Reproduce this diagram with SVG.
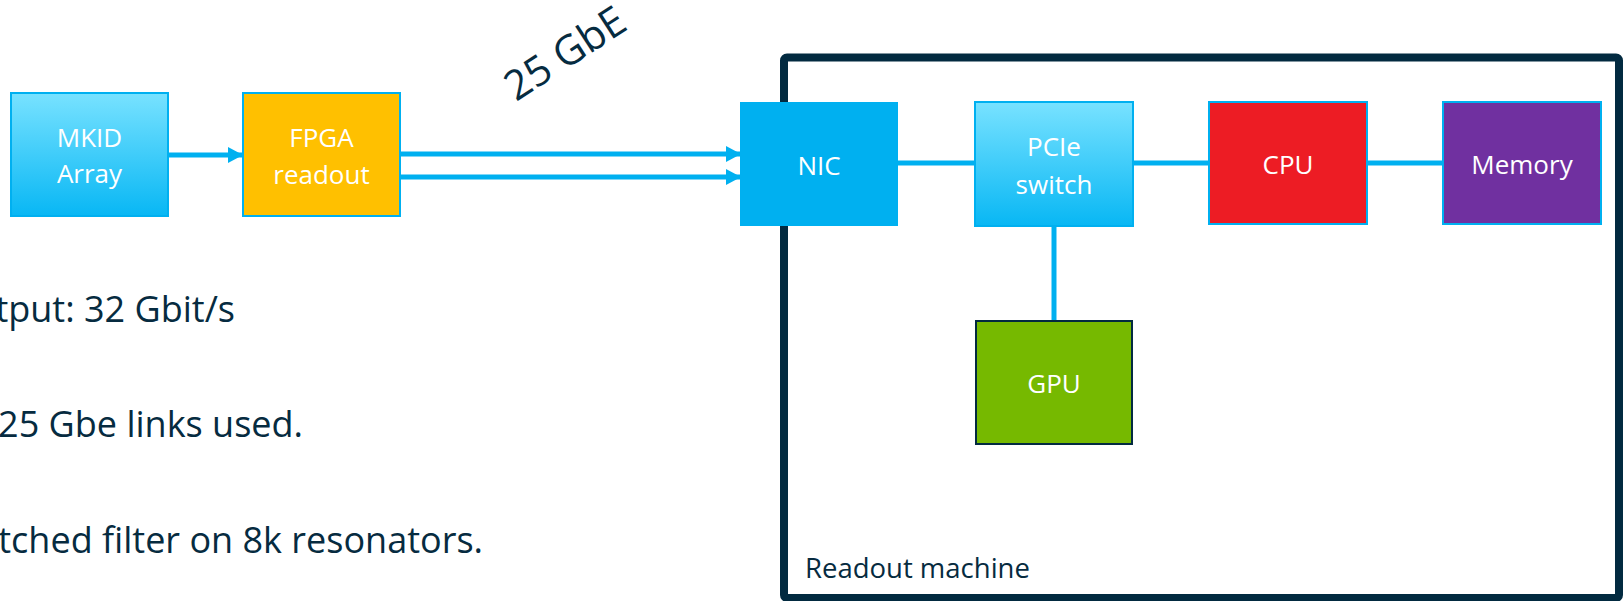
<svg xmlns="http://www.w3.org/2000/svg" width="1623" height="601" viewBox="0 0 1623 601">
<style>
.lbl{font-family:"Open Sans","Liberation Sans",sans-serif;font-size:26px;fill:#ffffff;text-anchor:middle}
.txt{font-family:"Open Sans","Liberation Sans",sans-serif;font-size:36px;fill:#062B40}
.conn{stroke:#00B0F0;stroke-width:5;fill:none}
.box{stroke:#00B0F0;stroke-width:2}
</style>
<defs>
<linearGradient id="lb" x1="0" y1="0" x2="0" y2="1">
<stop offset="0" stop-color="#78E2FF"/>
<stop offset="1" stop-color="#08B7F4"/>
</linearGradient>
<marker id="ah" markerWidth="15" markerHeight="16" refX="15" refY="8" orient="auto" markerUnits="userSpaceOnUse">
<path d="M0,0 L15,8 L0,16 Z" fill="#00B0F0"/>
</marker>
</defs>
<rect width="1623" height="601" fill="#ffffff"/>

<g id="readout-machine">
<rect x="784" y="57.5" width="835" height="540.5" rx="3" fill="none" stroke="#022A40" stroke-width="8"/>
<text x="805" y="578" font-family="Open Sans, Liberation Sans, sans-serif" font-size="27.5" fill="#062B40">Readout machine</text>
</g>

<g id="connectors">
<line class="conn" x1="168" y1="155" x2="243" y2="155" marker-end="url(#ah)"/>
<line class="conn" x1="400" y1="154" x2="741" y2="154" marker-end="url(#ah)"/>
<line class="conn" x1="400" y1="177" x2="741" y2="177" marker-end="url(#ah)"/>
<line class="conn" x1="898" y1="163" x2="975" y2="163"/>
<line class="conn" x1="1133" y1="163" x2="1209" y2="163"/>
<line class="conn" x1="1367" y1="163" x2="1443" y2="163"/>
<line class="conn" x1="1054" y1="226" x2="1054" y2="321"/>
</g>

<g id="mkid">
<rect class="box" x="11" y="93" width="157" height="123" fill="url(#lb)"/>
<text class="lbl" x="89.5" y="147">MKID</text>
<text class="lbl" x="89.5" y="183">Array</text>
</g>
<g id="fpga">
<rect class="box" x="243" y="93" width="157" height="123" fill="#FFC000"/>
<text class="lbl" x="321.5" y="147">FPGA</text>
<text class="lbl" x="321.5" y="184">readout</text>
</g>
<g id="nic">
<rect x="740" y="102" width="158" height="124" fill="#00B0F0"/>
<text class="lbl" x="819" y="175">NIC</text>
</g>
<g id="pcie">
<rect class="box" x="975" y="102" width="158" height="124" fill="url(#lb)"/>
<text class="lbl" x="1054" y="156">PCIe</text>
<text class="lbl" x="1054" y="194">switch</text>
</g>
<g id="cpu">
<rect class="box" x="1209" y="102" width="158" height="122" fill="#ED1C24"/>
<text class="lbl" x="1288" y="174">CPU</text>
</g>
<g id="memory">
<rect class="box" x="1443" y="102" width="158" height="122" fill="#7030A0"/>
<text class="lbl" x="1522" y="174">Memory</text>
</g>
<g id="gpu">
<rect x="976" y="321" width="156" height="123" fill="#76B900" stroke="#022A40" stroke-width="2"/>
<text class="lbl" x="1054" y="393">GPU</text>
</g>

<text font-family="Open Sans, Liberation Sans, sans-serif" font-size="41" fill="#062B40" transform="translate(516,102) rotate(-33)">25 GbE</text>

<text class="txt" x="235" y="322" text-anchor="end">tput: 32 Gbit/s</text>
<text class="txt" x="303" y="437" text-anchor="end">25 Gbe links used.</text>
<text class="txt" x="483" y="553" text-anchor="end">tched filter on 8k resonators.</text>
</svg>
